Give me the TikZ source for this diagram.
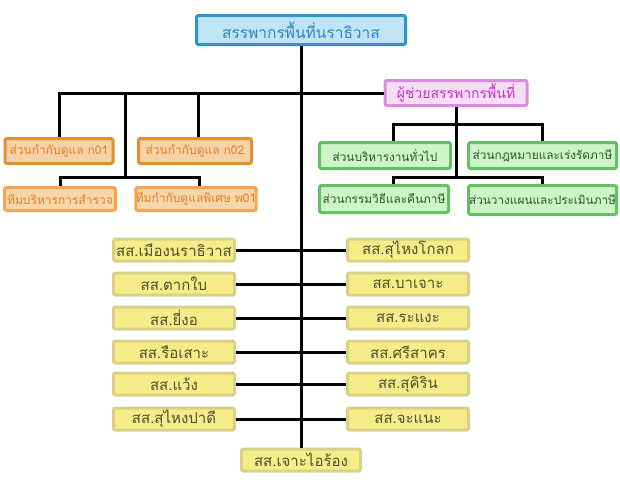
\documentclass[tikz,border=0pt]{standalone}
\usepackage{fontspec}
\newfontfamily\thaifont[Script=Thai]{Loma}
\newlength{\du}
\setlength{\du}{1pt}
\definecolor{headfill}{RGB}{190,228,246}
\definecolor{headline}{RGB}{42,150,205}
\definecolor{headtext}{RGB}{45,135,190}
\definecolor{asstfill}{RGB}{245,222,246}
\definecolor{asstline}{RGB}{218,140,224}
\definecolor{assttext}{RGB}{204,48,204}
\definecolor{kofill}{RGB}{245,210,170}
\definecolor{koline}{RGB}{230,142,50}
\definecolor{kotext}{RGB}{236,128,30}
\definecolor{tmfill}{RGB}{246,214,172}
\definecolor{tmline}{RGB}{246,166,80}
\definecolor{gfill}{RGB}{206,245,200}
\definecolor{gline}{RGB}{100,192,100}
\definecolor{gtext}{RGB}{40,88,40}
\definecolor{sfill}{RGB}{246,236,136}
\definecolor{sline}{RGB}{216,210,136}
\definecolor{stext}{RGB}{80,80,48}
\tikzset{
  box/.style={draw, line width=3\du, rounded corners=2\du, inner sep=0pt},
  headbox/.style={box, draw=headline, fill=headfill, text=headtext,
    minimum width=209\du, minimum height=29\du, font=\thaifont\fontsize{15.5}{17}\selectfont},
  asstbox/.style={box, draw=asstline, fill=asstfill, text=assttext,
    minimum width=142\du, minimum height=25\du, font=\thaifont\fontsize{14}{16}\selectfont},
  kobox/.style={box, draw=koline, fill=kofill, text=kotext,
    minimum height=25\du, font=\thaifont\fontsize{12}{14}\selectfont},
  tmbox/.style={kobox, draw=tmline, fill=tmfill, minimum height=23\du},
  gbox/.style={box, draw=gline, fill=gfill, text=gtext,
    minimum height=26\du, font=\thaifont\fontsize{11.8}{14}\selectfont},
  sbox/.style={box, draw=sline, fill=sfill, text=stext,
    minimum width=121\du, minimum height=22\du, font=\thaifont\fontsize{15}{17}\selectfont},
  link/.style={line width=3\du}
}
\begin{document}
\begin{tikzpicture}
\pgftransformxscale{1.000000}
\pgftransformyscale{-1.000000}
\useasboundingbox[fill=white] (0\du,0\du) rectangle (620\du,490\du);
% head and assistant
\node[headbox] (head) at (301\du,30\du){สรรพากรพื้นที่นราธิวาส};
\node[asstbox] (asst) at (456\du,93\du){ผู้ช่วยสรรพากรพื้นที่};
% left branch
\node[kobox, minimum width=108\du] (ko1) at (59\du,151\du){ส่วนกำกับดูแล ก01};
\node[kobox, minimum width=113\du] (ko2) at (195\du,151\du){ส่วนกำกับดูแล ก02};
\node[tmbox, minimum width=111\du] (tm1) at (60\du,199\du){ทีมบริหารการสำรวจ};
\node[tmbox, minimum width=117\du] (tm2) at (196\du,199\du){ทีมกำกับดูแลพิเศษ พ01};
% right branch
\node[gbox, minimum width=131\du] (g1) at (385\du,155.5\du){ส่วนบริหารงานทั่วไป};
\node[gbox, minimum width=148\du] (g2) at (542.5\du,155.5\du){ส่วนกฎหมายและเร่งรัดภาษี};
\node[gbox, minimum width=129\du, minimum height=27\du] (g3) at (384\du,199\du){ส่วนกรรมวิธีและคืนภาษี};
\node[gbox, minimum width=148\du, minimum height=29\du] (g4) at (542.5\du,200\du){ส่วนวางแผนและประเมินภาษี};
% district offices
\node[sbox] (sl1) at (174\du,250\du){สส.เมืองนราธิวาส};
\node[sbox] (sl2) at (174\du,284\du){สส.ตากใบ};
\node[sbox] (sl3) at (174\du,318\du){สส.ยี่งอ};
\node[sbox] (sl4) at (174\du,352\du){สส.รือเสาะ};
\node[sbox] (sl5) at (174\du,384\du){สส.แว้ง};
\node[sbox] (sl6) at (174\du,419\du){สส.สุไหงปาดี};
\node[sbox] (sr1) at (408\du,250\du){สส.สุไหงโกลก};
\node[sbox] (sr2) at (408\du,284\du){สส.บาเจาะ};
\node[sbox] (sr3) at (408\du,318\du){สส.ระแงะ};
\node[sbox] (sr4) at (408\du,352\du){สส.ศรีสาคร};
\node[sbox] (sr5) at (408\du,384\du){สส.สุคิริน};
\node[sbox] (sr6) at (408\du,419\du){สส.จะแนะ};
\node[sbox, minimum width=119\du] (last) at (301\du,460\du){สส.เจาะไอร้อง};
% connectors
\coordinate (lj) at (125\du,177\du);
\coordinate (rj1) at (456\du,124\du);
\coordinate (rj2) at (456\du,177\du);
\draw[link] (head.south) -- (last.north);
\draw[link] (ko1.north) |- (asst.west);
\draw[link] ([xshift=3\du]ko2.north) -- ([xshift=3\du]ko2.north |- asst.west);
\draw[link] (lj) -- (lj |- asst.west);
\draw[link] (tm1.north) |- (lj) -| ([xshift=3\du]tm2.north);
\draw[link] (asst.south) -- (rj2);
\draw[link] ([xshift=8\du]g1.north) |- (rj1) -| (g2.north);
\draw[link] ([xshift=9\du]g3.north) |- (rj2) -| (g4.north);
\foreach \i in {1,...,6}{
  \draw[link] (sl\i.east) -- (sr\i.west);
}
\end{tikzpicture}
\end{document}
